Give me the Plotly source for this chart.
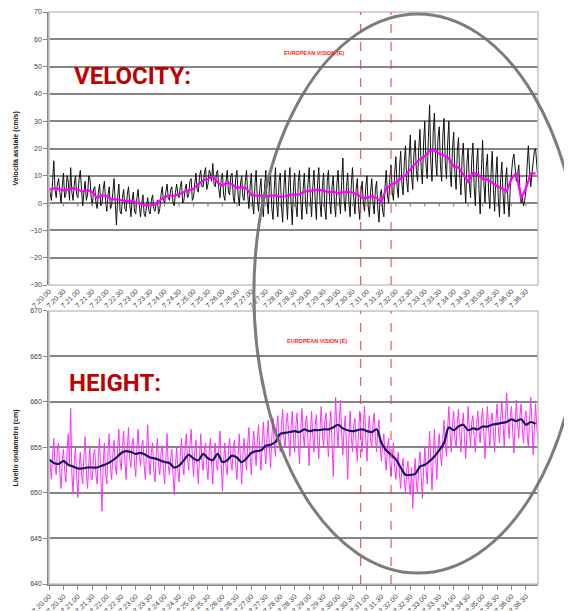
import plotly.graph_objects as go

# ---------------- data ----------------
tick_labels = ["7.20.00", "7.20.30", "7.21.00", "7.21.30", "7.22.00", "7.22.30",
               "7.23.00", "7.23.30", "7.24.00", "7.24.30", "7.25.00", "7.25.30",
               "7.26.00", "7.26.30", "7.27.00", "7.27.30", "7.28.00", "7.28.30",
               "7.29.00", "7.29.30", "7.30.00", "7.30.30", "7.31.00", "7.31.30",
               "7.32.00", "7.32.30", "7.33.00", "7.33.30", "7.34.00", "7.34.30",
               "7.35.00", "7.35.30", "7.36.00", "7.36.30"]
tick_seconds = [30 * i for i in range(len(tick_labels))]

raw_step = 2.5    # seconds between raw samples
smooth_step = 10  # seconds between smoothed samples

# raw axial velocity (cm/s), one row = 50 s
vel_raw = [
    6, 3, 1, 8, 15.5, 5, 2, 7, 9, 4, 0, 6, 11, 2, 3, 10, 8, 1, 13, 4,
    1, 7, 10, 3, 2, 9, 12, 5, -1, 4, 8, 1, 3, 10, 9, 2, -1, 5, 6, 0,
    -2, 4, 7, -1, 0, 5, 8, 1, -3, 3, 6, -2, -1, 4, 9, 0, -8, 2, 7, -3,
    -4, 2, 5, -2, -3, 3, 6, 0, -5, 1, 4, -3, -4, 2, 5, -1, -5, 0, 3, -4,
    -5, -1, 2, -3, -4, 1, 3, -2, -3, 0, 1, -4, -2, 3, 6, 1, 0, 4, 7, 2,
    1, 5, 6, 0, -1, 4, 7, 3, 2, 6, 8, 0, 1, 5, 7, 2, 3, 8, 9, 1,
    2, 7, 11, 5, 4, 10, 12, 6, 6, 11, 13, 5, 7, 12, 11, 8, 14.5, 7, 6, 11,
    12, 5, 2, 9, 11, 3, 1, 8, 12, 4, 3, 10, 11, 2, 0, 9, 12, 3, -1, 7,
    10, 2, 1, 8, 12, 3, -2, 6, 11, 0, -4, 7, 12, 1, -3, 5, 9, -1, -5, 6,
    12, 1, -4, 7, 10, -2, -6, 5, 13, 0, -5, 8, 11, -1, -7, 6, 12, 2, -6, 7,
    13, 0, -8, 6, 11, -1, -5, 8, 12, 1, -6, 5, 11, 0, -4, 7, 13, 2, -5, 6,
    12, 1, -6, 7, 13, 0, -5, 6, 11, -2, -6, 8, 12, 1, -4, 6, 10, 0, -5, 7,
    12, 2, -4, 8, 16.5, 1, -3, 6, 11, 0, -5, 7, 13, 2, -4, 5, 9, -1, -6, 4,
    8, 0, -3, 6, 10, -1, -5, 4, 9, 0, -4, 5, 8, -2, -7, 3, 5, -3, -5, 6,
    12, 3, 0, 9, 14, 4, 1, 11, 17, 6, 2, 13, 19, 7, 3, 15, 21, 8, 4, 17,
    25, 10, 5, 18, 23, 12, 8, 20, 27, 13, 7, 22, 30, 14, 9, 24, 36, 15, 8, 26,
    33, 16, 10, 24, 28, 14, 8, 25, 31, 15, 9, 22, 30, 12, 6, 20, 26, 11, 5, 19,
    24, 10, 3, 17, 22, 8, 0, 15, 20, 7, 2, 16, 22, 6, -1, 14, 20, 5, -4, 12,
    23, 8, 0, 13, 18, 4, -2, 11, 19, 5, -3, 10, 17, 2, -5, 9, 15, 3, -4, 8,
    13, 1, -5, 6, 12, 16, 18, 12, 8, 10, 14, 5, 0, 2, -1, 1, 5, 14, 21, 12,
    6, 11, 16, 19, 20, 14, 8,
]

# smoothed axial velocity (cm/s), one row = 100 s
vel_smooth = [
    4.9, 5.4, 5.2, 4.7, 5.0, 5.5, 4.9, 4.2, 4.8, 4.0,
    1.9, 2.8, 2.6, 1.4, 1.4, 1.0, 0.7, 0.9, 0.3, -0.1,
    -0.8, -0.8, -0.5, 1.0, 2.3, 2.7, 2.7, 3.2, 4.1, 4.6,
    5.2, 7.0, 8.3, 8.8, 9.8, 7.5, 6.4, 7.6, 6.9, 5.5,
    5.9, 5.3, 3.0, 2.7, 2.8, 2.5, 2.6, 2.8, 2.3, 2.5,
    3.0, 3.1, 3.2, 4.2, 4.4, 4.6, 4.9, 4.6, 4.0, 4.2,
    3.6, 4.0, 4.1, 3.9, 3.2, 2.0, 1.9, 2.6, 1.8, 0.4,
    5.4, 6.8, 7.5, 9.0, 10.2, 12.3, 14.4, 16.0, 17.2, 19.2,
    19.3, 18.2, 17.5, 16.3, 13.4, 13.1, 10.5, 7.9, 11.1, 10.6,
    8.8, 8.6, 7.5, 6.2, 5.4, 4.2, 9.0, 11.0, 1.8, 5.5,
    10.8, 10.9,
]

# raw wave-gauge level (cm), one row = 50 s
height_raw = [
    654.5, 652.8, 651.5, 654.2, 656.0, 653.0, 652.0, 655.0, 655.5, 652.2, 650.5, 653.5, 654.8, 652.5, 651.2, 654.6, 656.5, 653.0, 659.3, 652.0,
    650.0, 653.5, 655.0, 651.8, 649.5, 652.8, 654.5, 652.0, 651.0, 654.0, 656.2, 652.5, 650.5, 653.2, 655.0, 651.5, 651.5, 654.3, 654.8, 652.0,
    651.0, 654.0, 656.0, 652.0, 648.0, 653.0, 655.5, 652.2, 651.0, 654.5, 656.5, 652.8, 651.5, 654.2, 655.8, 653.0, 652.0, 655.0, 657.0, 653.5,
    652.5, 655.2, 656.8, 653.5, 651.5, 654.8, 657.2, 653.8, 652.8, 655.5, 656.0, 653.2, 651.8, 655.0, 657.0, 654.0, 653.0, 655.2, 655.8, 653.0,
    651.5, 654.8, 657.5, 653.5, 652.0, 654.6, 655.5, 652.5, 651.2, 654.2, 656.0, 653.0, 652.0, 654.5, 655.2, 652.6, 651.0, 653.8, 656.5, 653.0,
    652.0, 653.8, 654.8, 652.0, 649.8, 653.0, 655.0, 652.5, 651.2, 654.0, 656.0, 653.2, 652.0, 655.0, 656.5, 653.8, 652.5, 655.2, 657.0, 654.0,
    651.8, 654.5, 655.8, 653.0, 651.0, 654.0, 656.5, 653.5, 652.5, 654.8, 655.5, 652.8, 651.5, 654.6, 656.0, 653.2, 651.0, 654.0, 655.5, 653.0,
    652.5, 655.0, 656.8, 653.2, 650.2, 653.5, 655.5, 652.8, 652.0, 654.8, 656.0, 653.5, 652.5, 655.0, 655.8, 653.0, 651.5, 654.2, 656.5, 653.5,
    651.0, 654.2, 656.0, 653.8, 652.5, 655.5, 657.2, 654.0, 652.0, 655.2, 656.8, 654.5, 653.0, 655.8, 657.5, 654.6, 652.5, 655.5, 657.8, 655.0,
    653.2, 656.0, 658.0, 655.0, 652.8, 656.2, 658.2, 655.5, 654.0, 657.0, 658.5, 655.8, 654.5, 657.5, 659.2, 656.0, 655.0, 657.8, 658.8, 656.2,
    654.0, 657.2, 659.0, 656.0, 654.5, 657.5, 658.8, 655.5, 653.2, 656.8, 659.3, 656.5, 655.0, 657.8, 658.5, 655.8, 653.0, 656.5, 659.0, 656.2,
    654.5, 657.5, 658.6, 655.8, 653.8, 657.0, 659.5, 656.5, 655.0, 657.8, 658.8, 656.0, 654.0, 657.2, 659.0, 655.5, 651.8, 656.5, 660.5, 657.0,
    655.0, 658.0, 660.2, 656.5, 654.2, 657.0, 658.5, 655.0, 651.5, 656.0, 659.0, 656.2, 654.5, 657.5, 658.2, 655.5, 653.5, 656.8, 659.0, 656.0,
    654.5, 657.5, 659.5, 656.0, 653.5, 656.8, 658.5, 655.8, 655.0, 657.5, 658.8, 656.2, 654.5, 657.0, 658.0, 655.0, 653.5, 655.5, 656.5, 654.0,
    652.5, 655.0, 656.0, 653.5, 651.8, 654.0, 655.5, 652.8, 651.5, 653.5, 654.5, 652.0, 650.5, 652.8, 653.8, 651.5, 650.0, 652.5, 653.5, 651.0,
    649.8, 652.8, 648.3, 651.5, 653.8, 651.0, 650.0, 653.0, 654.5, 651.8, 649.4, 652.5, 655.0, 652.8, 651.0, 654.0, 656.8, 653.5, 650.3, 654.0,
    657.0, 654.0, 651.5, 655.0, 656.5, 654.2, 653.0, 656.0, 658.0, 655.5, 654.0, 657.2, 659.5, 656.5, 654.5, 657.5, 659.0, 656.0, 655.0, 657.8,
    659.2, 656.5, 654.5, 657.5, 658.8, 656.0, 653.8, 656.8, 659.5, 657.0, 655.0, 657.8, 658.5, 656.2, 654.5, 657.5, 659.0, 656.8, 655.5, 658.0,
    659.3, 656.5, 653.8, 657.2, 659.5, 657.0, 655.0, 658.0, 658.8, 656.5, 654.5, 657.8, 659.8, 657.2, 655.5, 658.2, 660.0, 657.5, 655.0, 658.5,
    661.0, 658.0, 656.0, 658.5, 659.5, 656.8, 654.4, 657.5, 660.2, 657.8, 656.0, 658.5, 659.8, 657.0, 655.5, 658.2, 659.0, 656.5, 655.0, 658.0,
    660.5, 657.5, 654.2, 657.0, 659.8, 657.2, 655.5,
]

# smoothed wave-gauge level (cm), one row = 100 s
height_smooth = [
    653.7, 653.3, 653.2, 653.5, 653.1, 652.9, 652.7, 652.7, 652.8, 652.8,
    652.8, 653.0, 653.2, 653.5, 653.9, 654.4, 654.6, 654.5, 654.3, 654.4,
    654.2, 653.9, 653.8, 653.6, 653.4, 653.3, 652.8, 653.0, 653.6, 654.2,
    653.8, 653.6, 654.3, 653.8, 653.6, 654.3, 653.4, 653.6, 654.1, 653.9,
    653.4, 653.8, 654.4, 654.6, 654.7, 655.2, 655.3, 655.6, 656.5, 656.6,
    656.7, 656.8, 656.7, 657.0, 656.8, 656.9, 656.9, 657.0, 657.0, 657.2,
    657.5, 657.1, 656.9, 656.8, 656.9, 657.0, 656.8, 656.7, 657.0, 655.5,
    654.7, 654.2, 653.7, 652.8, 652.0, 652.0, 652.1, 652.9, 653.1, 653.5,
    654.0, 654.7, 655.5, 657.2, 656.9, 657.3, 657.5, 656.9, 657.1, 657.0,
    657.3, 657.3, 657.5, 657.6, 657.7, 657.8, 658.1, 657.9, 658.1, 657.5,
    657.8, 657.6,
]

event_seconds = [647, 710]   # the two red dashed markers
event_label = "EUROPEAN VISION (E)"

vel_title = "Velocità assiale (cm/s)"
height_title = "Livello ondametro (cm)"

# ---------------- figure ----------------
t_raw_v = [raw_step * i for i in range(len(vel_raw))]
t_raw_h = [raw_step * i for i in range(len(height_raw))]
t_sm_v = [smooth_step * i for i in range(len(vel_smooth))]
t_sm_h = [smooth_step * i for i in range(len(height_smooth))]

TOP_DOM = [0.5227, 1.0]
BOT_DOM = [0.0, 0.4773]
XMAX = 1015
GRID = "#868686"
FONT = "Liberation Sans, Arial, sans-serif"

fig = go.Figure()

fig.add_trace(go.Scatter(x=t_raw_v, y=vel_raw, mode="lines",
                         line=dict(color="#111111", width=1.0),
                         xaxis="x", yaxis="y", hoverinfo="skip"))
fig.add_trace(go.Scatter(x=t_sm_v, y=vel_smooth, mode="lines",
                         line=dict(color="#FF00FF", width=2.2),
                         xaxis="x", yaxis="y"))

# x-axis tick marks where the velocity axis crosses zero
tx, ty = [], []
for s in tick_seconds:
    tx += [s, s, None]
    ty += [0, -1.2, None]
fig.add_trace(go.Scatter(x=tx, y=ty, mode="lines",
                         line=dict(color=GRID, width=1.2),
                         xaxis="x", yaxis="y", hoverinfo="skip"))

fig.add_trace(go.Scatter(x=t_raw_h, y=height_raw, mode="lines",
                         line=dict(color="#FF2EFF", width=1.0),
                         xaxis="x2", yaxis="y2", hoverinfo="skip"))
fig.add_trace(go.Scatter(x=t_sm_h, y=height_smooth, mode="lines",
                         line=dict(color="#141464", width=2.2, shape="spline"),
                         xaxis="x2", yaxis="y2"))

xcommon = dict(range=[0, XMAX], tickmode="array", tickvals=tick_seconds,
               ticktext=tick_labels, tickangle=-45, automargin=False,
               tickfont=dict(family=FONT, size=7, color="#404040"),
               showgrid=False, zeroline=False)
ycommon = dict(showgrid=True, gridcolor=GRID, gridwidth=1.5, zeroline=False,
               showline=True, linecolor=GRID, linewidth=1.5, automargin=False,
               ticks="outside", ticklen=4, tickcolor=GRID, tickwidth=1,
               tickfont=dict(family=FONT, size=7, color="#404040"))

# the page body adds an 8 px offset, so the figure is 8 px smaller each way
fig.update_layout(
    width=564, height=603,
    margin=dict(l=41, r=34, t=4, b=27),
    paper_bgcolor="white", plot_bgcolor="white",
    showlegend=False,
    xaxis=dict(anchor="y", domain=[0, 1], showline=False, ticks="", **xcommon),
    yaxis=dict(anchor="x", domain=TOP_DOM, range=[-30, 70],
               tickvals=list(range(-30, 71, 10)), **ycommon),
    xaxis2=dict(anchor="y2", domain=[0, 1], showline=True, linecolor=GRID,
                linewidth=1.5, ticks="outside", ticklen=4, tickcolor=GRID,
                **xcommon),
    yaxis2=dict(anchor="x2", domain=BOT_DOM, range=[640, 670],
                tickvals=list(range(640, 671, 5)), **ycommon),
)

shapes = []
# plot-area frames
for dom in (TOP_DOM, BOT_DOM):
    shapes.append(dict(type="rect", xref="paper", yref="paper",
                       x0=0, x1=1, y0=dom[0], y1=dom[1],
                       line=dict(color="#C4C4C4", width=1.5), layer="above"))
# event markers
for xa, ya in (("x", "y"), ("x2", "y2")):
    for s in event_seconds:
        shapes.append(dict(type="line", xref=xa, yref=ya + " domain",
                           x0=s, x1=s, y0=0, y1=1,
                           line=dict(color="#FF3030", width=1, dash="dash"),
                           layer="above"))
# highlighting ellipse
shapes.append(dict(type="circle", xref="paper", yref="paper",
                   x0=0.419, x1=1.090, y0=0.0192, y1=0.9965,
                   line=dict(color="rgba(110,110,105,0.9)", width=3),
                   layer="above"))
fig.update_layout(shapes=shapes)

ann = []
ann.append(dict(text="VELOCITY:", xref="paper", yref="paper", x=0.047, y=0.888,
                xanchor="left", yanchor="middle", showarrow=False,
                font=dict(family="Roboto, sans-serif", size=24, color="#C00000",
                          weight="bold")))
ann.append(dict(text="HEIGHT:", xref="paper", yref="paper", x=0.0368, y=0.352,
                xanchor="left", yanchor="middle", showarrow=False,
                font=dict(family="Roboto, sans-serif", size=24, color="#C00000",
                          weight="bold")))
ann.append(dict(text="<b>" + event_label + "</b>", xref="paper", yref="paper",
                x=0.542, y=0.928, xanchor="center", yanchor="middle",
                showarrow=False, font=dict(family=FONT, size=5.5, color="#FF2020")))
ann.append(dict(text="<b>" + event_label + "</b>", xref="paper", yref="paper",
                x=0.548, y=0.4248, xanchor="center", yanchor="middle",
                showarrow=False, font=dict(family=FONT, size=5.5, color="#FF2020")))
ann.append(dict(text="<b>" + vel_title + "</b>", xref="paper", yref="paper",
                x=-0.0675, y=(TOP_DOM[0] + TOP_DOM[1]) / 2, textangle=-90,
                xanchor="center", yanchor="middle", showarrow=False,
                font=dict(family=FONT, size=7, color="#202020")))
ann.append(dict(text="<b>" + height_title + "</b>", xref="paper", yref="paper",
                x=-0.0675, y=(BOT_DOM[0] + BOT_DOM[1]) / 2, textangle=-90,
                xanchor="center", yanchor="middle", showarrow=False,
                font=dict(family=FONT, size=7, color="#202020")))
fig.update_layout(annotations=ann)

fig.write_html("out.html")
